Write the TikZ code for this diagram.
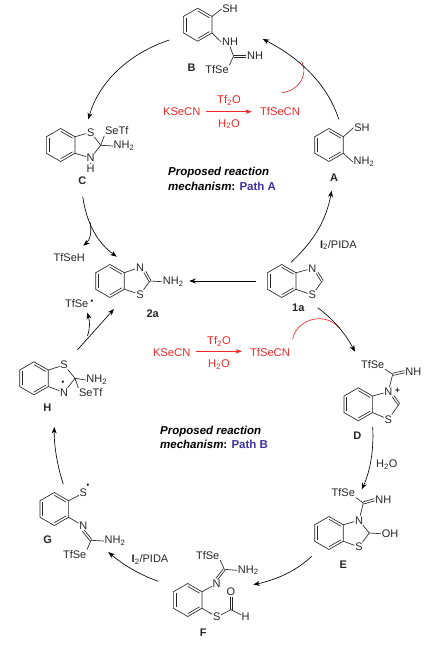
\documentclass[tikz,border=0pt]{standalone}
\usepackage{fontspec}
\setmainfont{Liberation Sans}
\usetikzlibrary{arrows.meta,calc}
\definecolor{rxred}{RGB}{240,40,40}
\definecolor{pathblue}{RGB}{62,50,160}
\newcommand{\subt}[1]{\textsubscript{#1}}
\newcommand{\dbl}[2]{%
  \draw[bond] ($(#1)!1.1pt!90:(#2)$) -- ($(#2)!1.1pt!-90:(#1)$);
  \draw[bond] ($(#1)!1.1pt!-90:(#2)$) -- ($(#2)!1.1pt!90:(#1)$);
}
\newcommand{\benz}[3]{%
  \coordinate (#1o) at (#2,#3);
  \coordinate (#1a) at (#2,#3-16.5);
  \coordinate (#1b) at (#2+14.3,#3-8.25);
  \coordinate (#1c) at (#2+14.3,#3+8.25);
  \coordinate (#1d) at (#2,#3+16.5);
  \coordinate (#1e) at (#2-14.3,#3+8.25);
  \coordinate (#1f) at (#2-14.3,#3-8.25);
  \draw[bond,line join=miter] (#1a)--(#1b)--(#1c)--(#1d)--(#1e)--(#1f)--cycle;
  \draw[bond] ($(#1a)!.17!(#1o)$)--($(#1b)!.17!(#1o)$);
  \draw[bond] ($(#1c)!.17!(#1o)$)--($(#1d)!.17!(#1o)$);
  \draw[bond] ($(#1e)!.17!(#1o)$)--($(#1f)!.17!(#1o)$);
}
\tikzset{
  bond/.style={line width=0.65pt,black!85},
  atom/.style={font=\fontsize{11}{11}\selectfont,inner sep=0.6pt,text=black!85},
  rad/.style={font=\fontsize{13}{13}\selectfont\bfseries,inner sep=0pt,text=black},
  lab/.style={font=\fontsize{11}{11}\selectfont\bfseries,inner sep=0pt,text=black!85},
  redt/.style={font=\fontsize{11.2}{11.2}\selectfont,inner sep=0pt,text=rxred},
  head/.style={font=\fontsize{11.5}{11.5}\selectfont\bfseries\itshape,inner sep=0pt,anchor=west},
  rxn/.style={line width=0.65pt,black,-{Stealth[length=6.5pt,width=5pt]}},
  rxnred/.style={line width=0.65pt,rxred,-{Stealth[length=6.5pt,width=4.5pt]}},
  redcurve/.style={line width=0.65pt,rxred},
}
\begin{document}
\begin{tikzpicture}[x=1pt,y=-1pt]
\useasboundingbox (0,0) rectangle (425,647);
\fill[white] (0,0) rectangle (425,647);

% B
\benz{B}{197.7}{24.7}
\node[atom] (Bsh) at (230,9) {SH};
\node[atom] (Bnh) at (230,42) {NH};
\coordinate (Bk) at (233.5,56);
\node[atom] (Bnh2) at (255,56) {NH};
\node[atom] (Btf) at (217,70) {TfSe};
\node[lab] (Blab) at (191.5,67.5) {B};
\draw[bond] (Bb)--(Bsh.west);
\draw[bond] (Bc)--(Bnh.west);
\draw[bond] (Bnh.south)--(Bk);
\dbl{Bk}{Bnh2.west}
\draw[bond] (Bk)--(Btf.north east);

% A
\benz{A}{329}{145}
\node[atom] (Ash) at (362,127.7) {SH};
\node[atom] (Anh) at (364,162) {NH\subt{2}};
\node[lab] (Alab) at (334,178) {A};
\draw[bond] (Ab)--(Ash.west);
\draw[bond] (Ac)--(Anh.west);

% C
\benz{C}{60.7}{145}
\node[atom] (Cs) at (90.7,132.3) {S};
\node[atom] (Cn) at (90.7,158) {N};
\node[atom] (Ch) at (90.7,168.7) {H};
\coordinate (Ck) at (100.7,145.3);
\node[atom] (Cse) at (116.7,131) {SeTf};
\node[atom] (Cnh) at (124,146) {NH\subt{2}};
\node[lab] (Clab) at (82.3,181) {C};
\draw[bond] (Cb)--(Cs);
\draw[bond] (Cc)--(Cn);
\draw[bond] (Cs)--(Ck);
\draw[bond] (Cn)--(Ck);
\draw[bond] (Cn)--(Ch);
\draw[bond] (Ck)--(Cse.south west);
\draw[bond] (Ck)--(Cnh.west);

% 2a
\benz{T}{110}{281}
\node[atom] (Tn) at (140,267.3) {N};
\node[atom] (Ts) at (140,294.3) {S};
\coordinate (Tk) at (150,281);
\node[atom] (Tnh) at (173.3,281.7) {NH\subt{2}};
\node[lab] (Tlab) at (152.7,314) {2a};
\draw[bond] (Tb)--(Tn);
\draw[bond] (Tc)--(Ts);
\dbl{Tn.south east}{Tk}
\draw[bond] (Ts)--(Tk);
\draw[bond] (Tk)--(Tnh.west);

% 1a
\benz{O}{281.7}{281}
\node[atom] (On) at (312.3,268.3) {N};
\node[atom] (Os) at (312.3,295) {S};
\coordinate (Ok) at (322.3,281);
\node[lab] (Olab) at (298.3,307.7) {1a};
\draw[bond] (Ob)--(On);
\draw[bond] (Oc)--(Os);
\dbl{On.south east}{Ok}
\draw[bond] (Os)--(Ok);

% D
\benz{D}{358.3}{404.3}
\node[atom] (Dn) at (388.3,391.7) {N};
\node[atom,font=\fontsize{9}{9}\selectfont\bfseries] (Dp) at (397.5,391) {+};
\node[atom] (Ds) at (388.3,419.3) {S};
\coordinate (Dk) at (399,404.3);
\coordinate (Dx) at (392.7,374.3);
\node[atom] (Dtf) at (372.7,364.3) {TfSe};
\node[atom] (Dnh) at (413.3,371.7) {NH};
\node[lab] (Dlab) at (357.3,436) {D};
\draw[bond] (Db)--(Dn);
\draw[bond] (Dc)--(Ds);
\dbl{Dn.south east}{Dk}
\draw[bond] (Ds)--(Dk);
\draw[bond] (Dn)--(Dx);
\draw[bond] (Dx)--(Dtf.south east);
\dbl{Dx}{Dnh.west}

% E
\benz{E}{329}{533}
\node[atom] (En) at (359,520.3) {N};
\node[atom] (Es) at (359,547) {S};
\coordinate (Ek) at (369.3,533);
\node[atom] (Eoh) at (390,533.7) {OH};
\coordinate (Ex) at (363.3,503);
\node[atom] (Etf) at (343.3,492.7) {TfSe};
\node[atom] (Enh) at (383.3,499.7) {NH};
\node[lab] (Elab) at (343.3,564.7) {E};
\draw[bond] (Eb)--(En);
\draw[bond] (Ec)--(Es);
\draw[bond] (En)--(Ek);
\draw[bond] (Es)--(Ek);
\draw[bond] (Ek)--(Eoh.west);
\draw[bond] (En)--(Ex);
\draw[bond] (Ex)--(Etf.south east);
\dbl{Ex}{Enh.west}

% F
\benz{F}{187.7}{600}
\node[atom] (Fn) at (216.7,583.7) {N};
\coordinate (Fk) at (224.3,569.3);
\node[atom] (Ftf) at (207.7,555.3) {TfSe};
\node[atom] (Fnh) at (248.3,570.3) {NH\subt{2}};
\node[atom] (Fs) at (216.7,617) {S};
\coordinate (Fy) at (231,609.7);
\node[atom] (Fo) at (231,592) {O};
\node[atom] (Fh) at (245.7,617) {H};
\node[lab] (Flab) at (203.3,633) {F};
\draw[bond] (Fb)--(Fn);
\dbl{Fn.north}{Fk}
\draw[bond] (Fk)--(Ftf.south east);
\draw[bond] (Fk)--(Fnh.west);
\draw[bond] (Fc)--(Fs);
\draw[bond] (Fs)--(Fy);
\dbl{Fy}{Fo.south}
\draw[bond] (Fy)--(Fh);

% G
\benz{G}{54.3}{509}
\node[atom] (Gs) at (83.3,493) {S};
\node[rad] (Gd) at (88.3,486.5) {·};
\node[atom] (Gn) at (83.3,526) {N};
\coordinate (Gk) at (91,540.3);
\node[atom] (Gnh) at (115,541) {NH\subt{2}};
\node[atom] (Gtf) at (74.7,554.3) {TfSe};
\node[lab] (Glab) at (47.7,539.7) {G};
\draw[bond] (Gb)--(Gs);
\draw[bond] (Gc)--(Gn);
\dbl{Gn.south}{Gk}
\draw[bond] (Gk)--(Gnh.west);
\draw[bond] (Gk)--(Gtf.north east);

% H
\benz{H}{34}{378.3}
\node[atom] (Hs) at (64,365) {S};
\node[atom] (Hn) at (64,392.3) {N};
\node[rad] (Hd) at (63.3,383.5) {·};
\coordinate (Hk) at (75,378.3);
\node[atom] (Hnh) at (96.7,380) {NH\subt{2}};
\node[atom] (Hse) at (90.7,392.7) {SeTf};
\node[lab] (Hlab) at (47.3,407.3) {H};
\draw[bond] (Hb)--(Hs);
\draw[bond] (Hc)--(Hn);
\draw[bond] (Hs)--(Hk);
\draw[bond] (Hn)--(Hk);
\draw[bond] (Hk)--(Hnh.west);
\draw[bond] (Hk)--(Hse.north west);

% small species
\node[atom] (tfseh) at (69.3,257.7) {TfSeH};
\node[atom] (tfser) at (76.7,303.3) {TfSe};
\node[rad] (tfdot) at (92.3,303.3) {·};

% upper reagent line
\node[redt] (k1) at (181.7,111.7) {KSeCN};
\node[redt] (t1) at (280,111.7) {TfSeCN};
\node[redt] (w1) at (229,100.7) {Tf\subt{2}O};
\node[redt] (h1) at (229,124) {H\subt{2}O};
\draw[rxnred] ($(k1.east)+(5,0)$) -- ($(t1.west)+(-8,0)$);
\coordinate (r1a) at (281.7,92.7);
\coordinate (r1b) at (301.5,61);
\draw[redcurve] (r1a) .. controls (298,91) and (309,76) .. (r1b);

% lower reagent line
\node[redt] (k2) at (171.7,352.3) {KSeCN};
\node[redt] (t2) at (270,352.3) {TfSeCN};
\node[redt] (w2) at (219,341.3) {Tf\subt{2}O};
\node[redt] (h2) at (219,364.3) {H\subt{2}O};
\draw[rxnred] ($(k2.east)+(5,-1)$) -- ($(t2.west)+(-8,-1)$);
\coordinate (r2a) at (292.7,339.3);
\coordinate (r2b) at (340,328.3);
\draw[redcurve] (r2a) .. controls (295,322) and (322,309) .. (r2b);

% headings
\node[head] (p1) at (168,172.7) {Proposed reaction};
\node[head] (p2) at (168,186) {mechanism{\upshape:} \textcolor{pathblue}{\upshape Path A}};
\node[head] (q1) at (160,431.3) {Proposed reaction};
\node[head] (q2) at (160,444.7) {mechanism{\upshape:} \textcolor{pathblue}{\upshape Path B}};

% conditions
\node[atom] (i1) at (338.3,245) {\textbf{I}\subt{2}/PIDA};
\node[atom] (i2) at (150,559.3) {\textbf{I}\subt{2}/PIDA};
\node[atom] (wat) at (386.7,464.7) {H\subt{2}O};

% cycle arrows
\coordinate (aB1) at (169.3,40);
\coordinate (aC1) at (88.3,119.3);
\draw[rxn] (aB1) .. controls (125,55) and (98,85) .. (aC1);
\coordinate (aA1) at (338.7,119.3);
\coordinate (aB2) at (262.7,39);
\draw[rxn] (aA1) .. controls (328,85) and (300,58) .. (aB2);
\coordinate (aO1) at (291,262.3);
\coordinate (aA2) at (331.7,190.7);
\draw[rxn] (aO1) .. controls (315,240) and (326,220) .. (aA2);
\coordinate (aC2) at (82.7,196.7);
\coordinate (aT1) at (116.7,256.7);
\draw[rxn] (aC2) .. controls (87,225) and (98,243) .. (aT1);
\coordinate (aX1) at (90,222);
\coordinate (aS1) at (83.3,245.7);
\draw[rxn] (aX1) .. controls (92,232) and (90,240) .. (aS1);
\coordinate (aH1) at (77.3,350);
\coordinate (aT2) at (114,309);
\draw[rxn] (aH1) -- (aT2);
\coordinate (aX2) at (87.5,336);
\coordinate (aS2) at (87.3,312.7);
\draw[rxn] (aX2) .. controls (90,328) and (90,322) .. (aS2);
\coordinate (aO2) at (256,281);
\coordinate (aT3) at (189.3,281);
\draw[rxn] (aO2) -- (aT3);
\coordinate (aO3) at (317.7,307.7);
\coordinate (aD1) at (355,351.7);
\draw[rxn] (aO3) .. controls (333,319) and (345,333) .. (aD1);
\coordinate (aD2) at (372.7,427);
\coordinate (aE1) at (361.7,489.3);
\draw[rxn] (aD2) .. controls (374,450) and (370,472) .. (aE1);
\coordinate (aE2) at (311.7,556.3);
\coordinate (aF1) at (253.3,584.7);
\draw[rxn] (aE2) .. controls (295,572) and (275,580) .. (aF1);
\coordinate (aF2) at (158.3,581.3);
\coordinate (aG1) at (108.3,552);
\draw[rxn] (aF2) .. controls (140,575) and (122,564) .. (aG1);
\coordinate (aG2) at (63.3,484.3);
\coordinate (aH2) at (54.3,427);
\draw[rxn] (aG2) .. controls (57,465) and (54,445) .. (aH2);
\end{tikzpicture}
\end{document}
